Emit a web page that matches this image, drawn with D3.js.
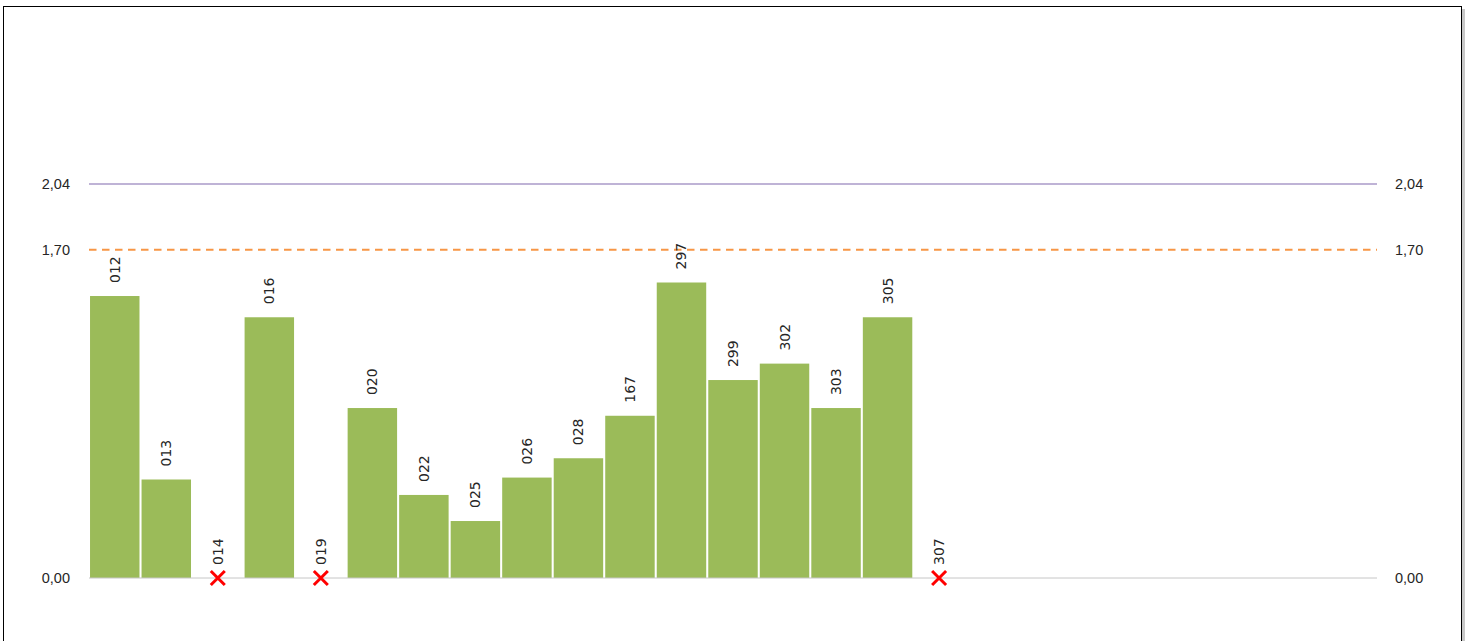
<!DOCTYPE html>
<html>
<head>
<meta charset="utf-8">
<script src="https://cdn.jsdelivr.net/npm/d3@7"></script>
<style>
  body { margin: 0; background: #fff; }
  svg { display: block; font-family: "DejaVu Sans", sans-serif; }
</style>
</head>
<body>
<div id="chart"></div>
<script>
// data
var codes = ["012", "013", "014", "016", "019", "020", "022", "025", "026", "028", "167", "297", "299", "302", "303", "305", "307"];
var values = [1.46, 0.51, null, 1.35, null, 0.88, 0.43, 0.295, 0.52, 0.62, 0.84, 1.53, 1.025, 1.11, 0.88, 1.35, null];
var slotCount = 25;
var maxLine = 2.04;
var refLine = 1.70;
var tickValues = [0, 1.70, 2.04];

var width = 1469, height = 641;
var margin = { top: 184, left: 89, right: 92, bottom: 63 };
var plotW = width - margin.left - margin.right;
var plotH = height - margin.top - margin.bottom;

var svg = d3.select("#chart").append("svg")
    .attr("width", width)
    .attr("height", height);

// frame with a little shadow
svg.append("rect")
    .attr("x", 6).attr("y", 9)
    .attr("width", 1459).attr("height", 700)
    .attr("fill", "#c8c8c8");
svg.append("rect")
    .attr("x", 3.5).attr("y", 6.5)
    .attr("width", 1458).attr("height", 700)
    .attr("fill", "#fff")
    .attr("stroke", "#000")
    .attr("stroke-width", 1);

var g = svg.append("g")
    .attr("transform", `translate(${margin.left}, ${margin.top})`);

var slots = d3.range(slotCount);
var x = d3.scaleBand().domain(slots).range([0, plotW]).paddingInner(0.04).paddingOuter(0.02);
var y = d3.scaleLinear().domain([0, maxLine]).range([plotH, 0]);

var fmt = function (d) { return d3.format(".2f")(d).replace(".", ","); };

// y axes both sides, only the labels
var yLeft = g.append("g")
    .call(d3.axisLeft(y).tickValues(tickValues).tickFormat(fmt).tickSize(0).tickPadding(19));
var yRight = g.append("g")
    .attr("transform", `translate(${plotW}, 0)`)
    .call(d3.axisRight(y).tickValues(tickValues).tickFormat(fmt).tickSize(0).tickPadding(18));
[yLeft, yRight].forEach(function (a) {
    a.select(".domain").remove();
    a.selectAll("text").attr("font-size", 14.5).attr("fill", "#262626");
});

// max line
g.append("line")
    .attr("x1", 0).attr("x2", plotW)
    .attr("y1", y(maxLine)).attr("y2", y(maxLine))
    .attr("stroke", "#bfb3d6").attr("stroke-width", 2);

// bars
var data = codes.map(function (c, i) { return { code: c, value: values[i], slot: i }; });

g.selectAll(".bar")
    .data(data.filter(d => d.value != null))
    .enter().append("rect")
    .attr("class", "bar")
    .attr("x", d => x(d.slot))
    .attr("y", d => y(d.value))
    .attr("width", x.bandwidth())
    .attr("height", d => plotH - y(d.value))
    .attr("fill", "#9bbb59");

// baseline
g.append("line")
    .attr("x1", 0).attr("x2", plotW)
    .attr("y1", plotH).attr("y2", plotH)
    .attr("stroke", "#c6c6c6").attr("stroke-width", 1);

// reference dashed line
g.append("line")
    .attr("x1", 0).attr("x2", plotW)
    .attr("y1", y(refLine)).attr("y2", y(refLine))
    .attr("stroke", "#f79646").attr("stroke-width", 2)
    .attr("stroke-dasharray", "7.5,5.5");

// missing values -> red cross
var cross = g.selectAll(".miss")
    .data(data.filter(d => d.value == null))
    .enter().append("g")
    .attr("class", "miss")
    .attr("transform", d => `translate(${x(d.slot) + x.bandwidth() / 2}, ${plotH})`);
cross.append("path")
    .attr("d", "M-7,-7L7,7M-7,7L7,-7")
    .attr("stroke", "#ff0000").attr("stroke-width", 3);

// rotated code labels
g.selectAll(".lbl")
    .data(data)
    .enter().append("text")
    .attr("class", "lbl")
    .attr("transform", d => `translate(${x(d.slot) + x.bandwidth() / 2 + 5}, ${y(d.value || 0) - 13}) rotate(-90)`)
    .attr("font-size", 14)
    .attr("fill", "#262626")
    .text(d => d.code);
</script>
</body>
</html>
